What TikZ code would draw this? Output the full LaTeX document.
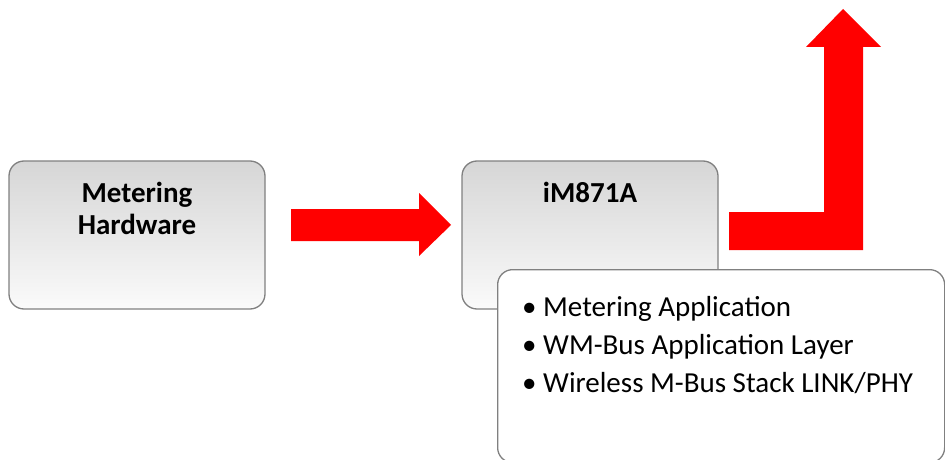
\documentclass[tikz,border=0pt]{standalone}
\usepackage{fontspec}
\setmainfont{Carlito}
\usepackage{tikz}
\usetikzlibrary{positioning}

\definecolor{boxtop}{RGB}{214,214,214}
\definecolor{boxbot}{RGB}{250,250,250}
\definecolor{boxline}{RGB}{128,128,128}
\definecolor{flow}{RGB}{255,0,0}

\tikzset{
  unitbox/.style={draw=boxline, line width=1.3pt, rounded corners=15pt,
    top color=boxtop, bottom color=boxbot,
    minimum width=256pt, minimum height=148pt, inner sep=0pt},
  title/.style={font=\fontsize{29}{32}\selectfont\bfseries, align=center, inner sep=0pt},
  listbox/.style={draw=boxline, line width=1.3pt, rounded corners=15pt, fill=white,
    minimum width=447pt, minimum height=193pt, inner sep=0pt},
  listtext/.style={font=\fontsize{29}{38}\selectfont, align=left, inner sep=0pt}
}

\begin{document}
\begin{tikzpicture}[x=1pt,y=-1pt]

    \useasboundingbox (0,0) rectangle (945,460);
    \clip (0,0) rectangle (945,460);

    % Metering hardware block
    \node[unitbox] (hw) at (137,235) {};
    \node[title, below=22pt of hw.north] (hwtext) {Metering\\Hardware};

    % Straight arrow between the blocks
    \fill[flow] (291,209) -- (419,209) -- (419,193) -- (451,225)
        -- (419,256) -- (419,241) -- (291,241) -- cycle;

    % Module block
    \node[unitbox] (mod) at (590,235) {};
    \node[title, below=22pt of mod.north] (modtext) {iM871A};

    % Bent arrow going up
    \fill[flow] (729,212) -- (824,212) -- (824,47) -- (806,47) -- (843,9)
        -- (881,47) -- (863,47) -- (863,250) -- (729,250) -- cycle;

    % Stack list on top of the module
    \node[listbox, anchor=north west] (stack) at (497,269) {};
    \node[listtext, anchor=north west] (stacktext) at (522,296)
        {\textbullet\ Metering Application\\
         \textbullet\ WM-Bus Application Layer\\
         \textbullet\ Wireless M-Bus Stack LINK/PHY};

\end{tikzpicture}
\end{document}
